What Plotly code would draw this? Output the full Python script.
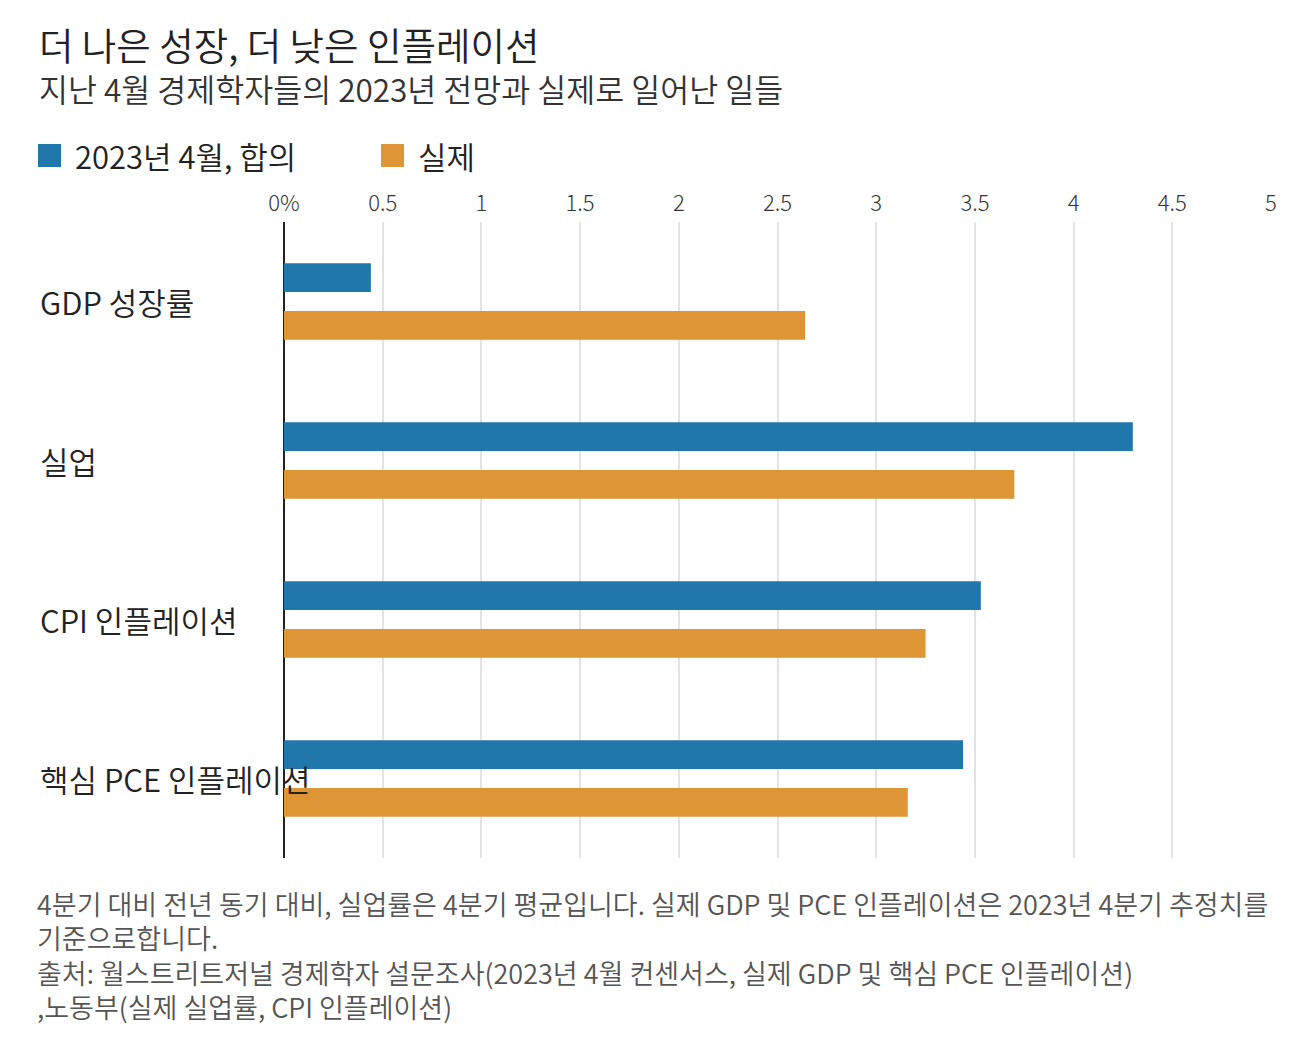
import plotly.graph_objects as go

categories = ["GDP 성장률", "실업", "CPI 인플레이션", "핵심 PCE 인플레이션"]
consensus = [0.44, 4.30, 3.53, 3.44]
actual = [2.64, 3.70, 3.25, 3.16]
series_names = ["2023년 4월, 합의", "실제"]
tick_vals = [0, 0.5, 1, 1.5, 2, 2.5, 3, 3.5, 4, 4.5, 5]
tick_text = ["0%", "0.5", "1", "1.5", "2", "2.5", "3", "3.5", "4", "4.5", "5"]

title = "더 나은 성장, 더 낮은 인플레이션"
subtitle = "지난 4월 경제학자들의 2023년 전망과 실제로 일어난 일들"
footer = [
    "4분기 대비 전년 동기 대비, 실업률은 4분기 평균입니다. 실제 GDP 및 PCE 인플레이션은 2023년 4분기 추정치를",
    "기준으로합니다.",
    "출처: 월스트리트저널 경제학자 설문조사(2023년 4월 컨센서스, 실제 GDP 및 핵심 PCE 인플레이션)",
    ",노동부(실제 실업률, CPI 인플레이션)",
]

BLUE = "#1f77ab"
ORANGE = "#de9536"
FONT = "Noto Sans CJK KR"
WT = 350
OFF = 8  # page body margin
W, H = 1308 - OFF, 1037 - OFF
L, R, T, B = 284 - OFF, 37, 222 - OFF, 179

fig = go.Figure()
fig.add_trace(go.Bar(y=categories, x=consensus, orientation="h", name=series_names[0],
                     marker=dict(color=BLUE, line=dict(width=0))))
fig.add_trace(go.Bar(y=categories, x=actual, orientation="h", name=series_names[1],
                     marker=dict(color=ORANGE, line=dict(width=0))))

fig.update_layout(
    width=W, height=H,
    margin=dict(l=L, r=R, t=T, b=B),
    paper_bgcolor="white", plot_bgcolor="white",
    barmode="group", bargap=0.4, bargroupgap=0.4,
    showlegend=False,
    font=dict(family=FONT, color="#333"),
    xaxis=dict(range=[0, 5], side="top", tickvals=tick_vals, ticktext=tick_text,
               showgrid=True, gridcolor="#e3e3e3", gridwidth=1.5,
               zeroline=True, zerolinecolor="#222", zerolinewidth=1.5,
               ticks="", ticklabelstandoff=6,
               tickfont=dict(size=22, color="#333", family=FONT, weight=300),
               showline=False, fixedrange=True),
    yaxis=dict(autorange="reversed", showticklabels=False, showgrid=False,
               zeroline=False, showline=False, ticks=""),
)

PW = W - L - R
PH = H - T - B

def px_x(p):
    return (p - OFF - L) / PW

def px_y(p):
    return 1 - (p - OFF - T) / PH

annos = []
annos.append(dict(text=title, x=px_x(37), y=px_y(43), xref="paper", yref="paper",
                  xanchor="left", yanchor="middle", showarrow=False,
                  font=dict(size=37.5, color="#222", family=FONT, weight=WT)))
annos.append(dict(text=subtitle, x=px_x(37), y=px_y(88), xref="paper", yref="paper",
                  xanchor="left", yanchor="middle", showarrow=False,
                  font=dict(size=31.5, color="#333", family=FONT, weight=WT)))
# legend
leg_x = [38, 381]
cols = [BLUE, ORANGE]
shapes = []
for lx, c, n in zip(leg_x, cols, series_names):
    shapes.append(dict(type="rect", xref="paper", yref="paper",
                       x0=px_x(lx), x1=px_x(lx + 23), y0=px_y(167), y1=px_y(144),
                       fillcolor=c, line=dict(width=0)))
    annos.append(dict(text=n, x=px_x(lx + 35), y=px_y(155), xref="paper", yref="paper",
                      xanchor="left", yanchor="middle", showarrow=False,
                      font=dict(size=31, color="#222", family=FONT, weight=WT)))
# category labels
for cat in categories:
    annos.append(dict(text=cat, x=px_x(38), xref="paper", y=cat, yref="y",
                      xanchor="left", yanchor="middle", showarrow=False,
                      font=dict(size=31, color="#222", family=FONT, weight=WT)))
# footer
for i, line in enumerate(footer):
    annos.append(dict(text=line, x=px_x(35), y=px_y(903 + i * 34.5), xref="paper", yref="paper",
                      xanchor="left", yanchor="middle", showarrow=False,
                      font=dict(size=27, color="#555", family=FONT, weight=WT)))

fig.update_layout(annotations=annos, shapes=shapes)
fig.write_html("out.html")
